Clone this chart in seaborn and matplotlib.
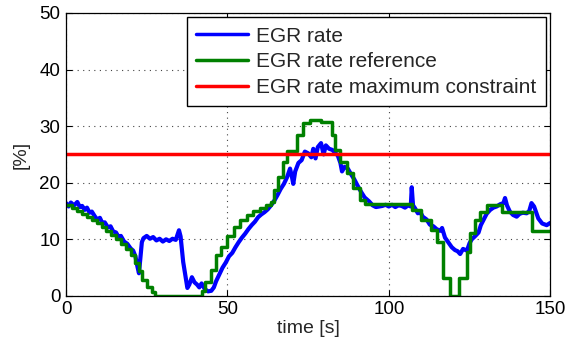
import numpy as np
import pandas as pd
import matplotlib
matplotlib.use("Agg")
import matplotlib.pyplot as plt
import seaborn as sns

# Measured EGR rate [%] over time [s]
egr_t = [0, 0.8, 1.5, 2.5, 3.5, 4.3, 5.0, 5.8, 6.5, 7.3, 8.0, 9.0, 9.7, 10.5, 11.3, 12.0,
         13.0, 13.8, 14.6, 15.5, 16.3, 17.0, 18.0, 19.0, 20.0, 20.8, 21.5, 22.0, 22.6, 23.0,
         23.5, 24.0, 25.0, 26.0, 27.0, 28.0, 29.0, 30.0, 31.0, 32.0, 33.0, 34.0, 35.0, 35.5,
         36.3, 37.0, 37.6, 38.2, 39.0, 39.8, 40.6, 41.3, 42.0, 43.0, 44.0, 45.0, 45.8, 46.5,
         47.5, 48.5, 49.5, 50.5, 51.5, 52.5, 53.5, 54.5, 55.5, 56.5, 57.5, 58.5, 59.5, 60.5,
         61.5, 62.5, 63.5, 64.5, 65.5, 66.5, 67.5, 68.5, 69.4, 70.0, 70.4, 71.0, 72.0, 73.0,
         74.0, 75.0, 76.0, 76.6, 77.3, 78.0, 79.0, 79.8, 80.5, 81.5, 82.5, 83.5, 84.2, 85.0,
         85.5, 86.3, 87.3, 88.3, 89.3, 90.3, 91.4, 92.5, 93.9, 95.0, 96.0, 97.0, 98.0, 99.0,
         100.0, 101.0, 102.0, 103.0, 104.0, 105.0, 106.0, 106.8, 107.1, 107.5, 108.1, 109.0,
         109.6, 110.5, 111.7, 112.7, 113.8, 114.8, 115.9, 116.5, 117.4, 118.5, 119.5, 120.5,
         121.3, 122.1, 123.0, 124.2, 125.0, 125.7, 126.8, 127.8, 128.5, 129.3, 130.3, 131.4,
         132.4, 133.4, 134.5, 135.5, 136.0, 136.6, 137.5, 138.5, 139.6, 140.5, 141.5, 142.7,
         143.5, 144.2, 145.0, 146.3, 147.5, 148.9, 150.0]
egr_rate = [16.4, 15.8, 16.5, 16.0, 16.6, 15.7, 15.9, 15.2, 15.6, 14.7, 14.9, 14.0, 13.5, 13.8,
            12.8, 13.0, 12.1, 12.3, 11.4, 11.2, 10.4, 10.6, 9.6, 9.2, 8.4, 8.0, 7.0, 5.5, 4.0,
            6.5, 9.5, 10.2, 10.6, 10.1, 10.4, 9.8, 10.1, 9.6, 10.0, 9.7, 10.1, 9.9, 11.6, 10.5,
            6.0, 3.5, 1.4, 2.0, 3.3, 2.4, 2.0, 1.5, 2.2, 1.2, 0.8, 0.9, 1.5, 2.6, 3.8, 5.0, 5.9,
            7.0, 7.6, 8.6, 9.5, 10.3, 11.0, 11.8, 12.5, 13.1, 13.9, 14.4, 14.8, 15.3, 16.0, 16.8,
            17.8, 18.9, 19.8, 21.0, 22.5, 21.0, 19.8, 22.0, 23.5, 24.0, 25.5, 25.2, 24.5, 26.0,
            24.3, 26.3, 27.0, 25.0, 26.6, 26.0, 25.8, 25.2, 24.8, 23.5, 22.0, 22.8, 22.5, 21.5,
            20.6, 19.5, 18.4, 17.4, 16.7, 16.0, 15.7, 15.8, 15.9, 16.1, 15.8, 16.1, 15.7, 16.0,
            15.9, 15.6, 16.0, 15.8, 19.2, 16.0, 15.5, 14.6, 15.0, 14.0, 13.5, 12.6, 12.3, 11.8,
            11.5, 12.0, 10.3, 9.4, 8.6, 8.1, 7.9, 7.4, 8.3, 8.0, 9.3, 10.0, 10.6, 11.2, 12.5,
            13.4, 14.5, 15.2, 15.6, 15.8, 16.2, 16.4, 17.3, 16.0, 14.9, 14.3, 14.0, 14.5, 14.7,
            14.6, 15.0, 16.4, 15.8, 13.7, 12.8, 12.5, 12.9]

# Reference EGR rate [%], piecewise constant from each switching time
ref_t = [0, 2.0, 3.5, 5.0, 6.5, 8.0, 9.5, 11.0, 12.5, 14.0, 15.5, 17.0, 18.5, 20.0, 21.5,
         22.5, 23.5, 25.0, 26.5, 27.5, 42.0, 43.0, 45.0, 46.5, 48.0, 50.0, 52.0, 54.0, 56.0,
         58.0, 60.0, 62.0, 63.5, 64.5, 65.8, 67.2, 68.5, 71.5, 73.5, 75.5, 79.0, 82.3, 83.3,
         84.8, 86.9, 89.0, 91.0, 92.6, 107.1, 110.1, 113.2, 114.8, 116.8, 118.8, 121.8,
         124.2, 125.2, 126.8, 128.3, 130.4, 135.0, 144.3, 150.0]
ref_rate = [16.1, 15.6, 15.0, 14.5, 14.0, 13.4, 12.9, 12.2, 11.5, 10.8, 10.0, 9.2, 8.2, 7.2,
            5.8, 4.4, 2.8, 1.5, 0.6, 0.0, 0.8, 2.5, 4.6, 7.2, 8.7, 10.5, 12.2, 13.4, 14.3, 15.0,
            15.5, 16.0, 16.6, 18.7, 21.1, 23.7, 25.6, 28.4, 30.6, 31.0, 30.8, 28.4, 25.8, 23.7,
            21.7, 19.0, 17.0, 16.2, 15.2, 13.4, 11.7, 9.6, 3.1, 0.0, 3.1, 7.8, 11.1, 13.4, 14.9,
            16.1, 14.9, 11.4, 11.4]

# Upper limit on the EGR rate [%]
max_t = [0, 150]
max_rate = [25, 25]

labels = ["EGR rate", "EGR rate reference", "EGR rate maximum constraint"]
colors = ["#0000ff", "#008000", "#ff0000"]

sns.set_style("ticks")
plt.rcParams["font.family"] = ["Liberation Sans", "DejaVu Sans"]

fig = plt.figure(figsize=(5.69, 3.51), dpi=100)
ax = fig.add_axes([0.116, 0.157, 0.851, 0.806])

df_egr = pd.DataFrame({"t": egr_t, "v": egr_rate})
df_ref = pd.DataFrame({"t": ref_t, "v": ref_rate})
df_max = pd.DataFrame({"t": max_t, "v": max_rate})

sns.lineplot(data=df_egr, x="t", y="v", ax=ax, color=colors[0], lw=3.0,
             label=labels[0], sort=False, estimator=None)
sns.lineplot(data=df_ref, x="t", y="v", ax=ax, color=colors[1], lw=2.5,
             label=labels[1], sort=False, estimator=None, drawstyle="steps-post")
sns.lineplot(data=df_max, x="t", y="v", ax=ax, color=colors[2], lw=2.5,
             label=labels[2], sort=False, estimator=None)

ax.set_xlim(0, 150)
ax.set_ylim(0, 50)
ax.set_xticks([0, 50, 100, 150])
ax.set_yticks([0, 10, 20, 30, 40, 50])
ax.set_xlabel("time [s]", fontsize=14, labelpad=1)
ax.set_ylabel("[%]", fontsize=14, labelpad=7)
ax.tick_params(direction="in", length=4, width=0.8, labelsize=13.5, top=True, right=True,
               colors="black", pad=4)
ax.grid(True, color="#444444", linestyle=(0, (1, 4)), linewidth=0.8)
for s in ax.spines.values():
    s.set_color("black")
    s.set_linewidth(0.9)

leg = ax.legend(loc="upper right", fontsize=15, frameon=True, fancybox=False,
                borderaxespad=0.2, handlelength=2.5, handletextpad=0.4,
                labelspacing=0.32, borderpad=0.45)
leg.get_frame().set_edgecolor("black")
leg.get_frame().set_linewidth(1.0)
leg.get_frame().set_alpha(1.0)
for h in leg.get_lines():
    h.set_linewidth(2.5)

fig.savefig("out.png", dpi=100)
